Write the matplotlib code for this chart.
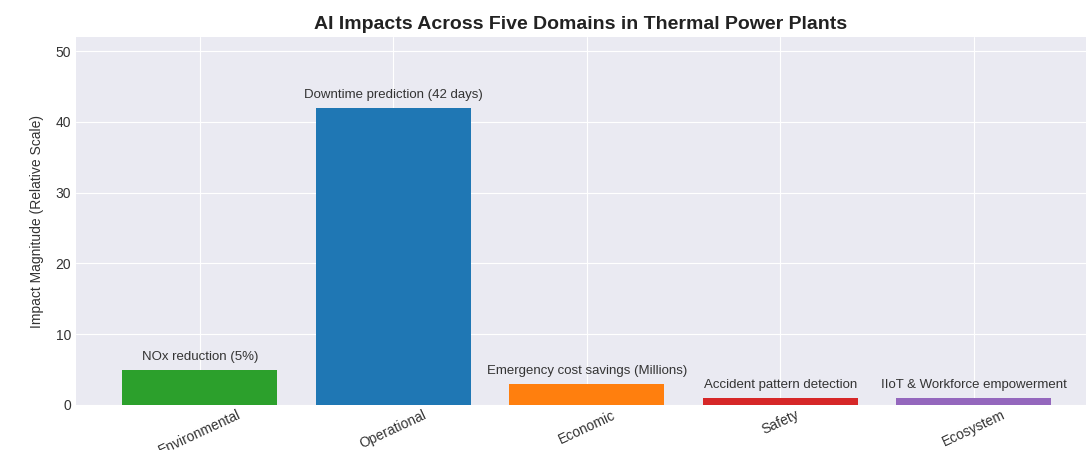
import matplotlib
matplotlib.use("Agg")
import matplotlib.pyplot as plt

domains = ["Environmental", "Operational", "Economic", "Safety", "Ecosystem"]
impact = [5, 42, 3, 1, 1]
notes = [
    "NOx reduction (5%)",
    "Downtime prediction (42 days)",
    "Emergency cost savings (Millions)",
    "Accident pattern detection",
    "IIoT & Workforce empowerment",
]
colors = ["#2ca02c", "#1f77b4", "#ff7f0e", "#d62728", "#9467bd"]

plt.style.use("seaborn-v0_8-darkgrid")
plt.rcParams["font.family"] = ["Liberation Sans", "DejaVu Sans"]

fig = plt.figure(figsize=(10.86, 4.5), dpi=100)
ax = fig.add_axes([76 / 1086, 45 / 450, 1010 / 1086, 368 / 450])

x = range(len(domains))
bars = ax.bar(x, impact, color=colors, width=0.8)

for b, note in zip(bars, notes):
    ax.text(b.get_x() + b.get_width() / 2, b.get_height() + 1, note,
            ha="center", va="bottom", fontsize=9.5, color="#333333")

ax.set_xticks(list(x))
ax.set_xticklabels(domains, rotation=25, fontsize=10, color="#333333")
ax.tick_params(axis="x", pad=2)
ax.tick_params(axis="y", labelsize=10, labelcolor="#333333")
ax.set_ylim(0, 52)
ax.set_xlim(-0.64, 4.58)
ax.set_ylabel("Impact Magnitude (Relative Scale)", fontsize=10, color="#333333",
              labelpad=8)
ax.set_title("AI Impacts Across Five Domains in Thermal Power Plants",
             fontsize=14, fontweight="bold", color="#222222", pad=6)

fig.savefig("out.png", dpi=100)
